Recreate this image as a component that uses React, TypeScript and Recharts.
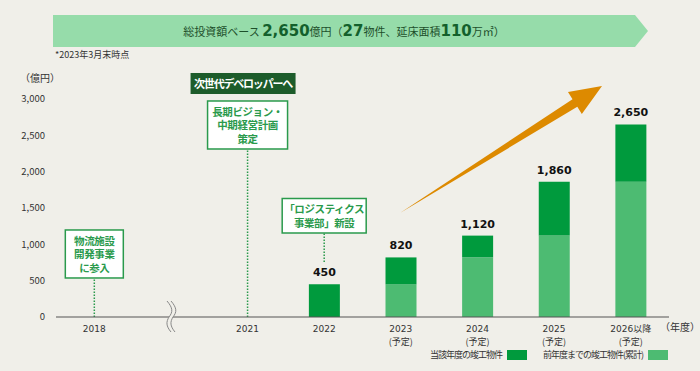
import { Bar, BarChart, LabelList, ReferenceLine, XAxis, YAxis } from "recharts";

const cats = ["2018", "gap", "2021", "2022", "2023", "2024", "2025", "2026"];
const tickTop = ["2018", "", "2021", "2022", "2023", "2024", "2025", "2026以降"];
const tickSub = ["", "", "", "", "(予定)", "(予定)", "(予定)", "(予定)"];
const prior = [null, null, null, null, 450, 820, 1120, 1860];
const current = [null, null, null, 450, 370, 300, 740, 790];
const totals = [null, null, null, 450, 820, 1120, 1860, 2650];
const yTicks = [0, 500, 1000, 1500, 2000, 2500, 3000];

const seriesNames = ["当該年度の竣工物件", "前年度までの竣工物件(累計)"];

const noteCats = ["2018", "2021", "2022"];
const noteText = [
  ["物流施設", "開発事業", "に参入"],
  ["長期ビジョン・", "中期経営計画", "策定"],
  ["「ロジスティクス", "事業部」新設"],
];
const noteFrom = [0, 0, 757];
const noteTo = [537, 2312, 1156];
const noteTag = "次世代デベロッパーへ";

const data = cats.map((c, i) => ({
  cat: c,
  prior: prior[i],
  current: current[i],
  total: totals[i],
}));

const BG = "#f0efe9";
const DARK = "#009a3d";
const LIGHT = "#4dbb72";
const NOTE = "#2a9a4c";
const FONT = "'DejaVu Sans', 'Noto Sans CJK JP', sans-serif";
const JP = "'Noto Sans CJK JP', sans-serif";
const noteW = [58, 80, 84];

const CatTick = (props: any) => {
  const { x, y, payload } = props;
  const i = payload.index;
  return (
    <g>
      <text x={x} y={y + 13} textAnchor="middle" fontSize={9} fill="#333" fontFamily={FONT}>
        {tickTop[i]}
      </text>
      {tickSub[i] && (
        <text x={x} y={y + 25.5} textAnchor="middle" fontSize={9} fill="#333" fontFamily={JP}>
          {tickSub[i]}
        </text>
      )}
    </g>
  );
};

const noteShape = (i: number) => (props: any) => {
  const { x1, y1, y2 } = props;
  const top = Math.min(y1, y2);
  const lines = noteText[i];
  const h = lines.length * 13.5 + 7.5;
  const w = noteW[i];
  const bx = x1 - w / 2;
  const by = top - h;
  return (
    <g>
      <line x1={x1} y1={y1} x2={x1} y2={y2} stroke={NOTE} strokeWidth={1.5} strokeDasharray="1.5 1.5" />
      <rect x={bx} y={by} width={w} height={h} fill="#fff" stroke={NOTE} strokeWidth={1.5} />
      <text
        x={x1}
        y={by + 15}
        textAnchor="middle"
        fontSize={10.5}
        fontWeight="bold"
        letterSpacing={-0.4}
        fill={NOTE}
        fontFamily={JP}
      >
        {lines.map((t, k) => (
          <tspan key={k} x={x1} dy={k === 0 ? 0 : 13.5}>
            {t}
          </tspan>
        ))}
      </text>
      {i === 1 && (
        <g>
          <rect x={x1 - 57} y={by - 28} width={105} height={21} fill="#1d5c2b" />
          <text
            x={x1 - 4.5}
            y={by - 17.5}
            textAnchor="middle"
            dominantBaseline="central"
            fontSize={11}
            fontWeight="bold"
            letterSpacing={-1.2}
            fill="#fff"
            fontFamily={JP}
          >
            {noteTag}
          </text>
        </g>
      )}
    </g>
  );
};

const LegendBox = () => (
  <div style={{ position: "absolute", left: 0, top: 348, width: 700, height: 20, fontFamily: JP, fontSize: 9, color: "#333" }}>
    <span style={{ position: "absolute", left: 430, top: 0, letterSpacing: -1 }}>{seriesNames[0]}</span>
    <span style={{ position: "absolute", left: 507, top: 2, width: 20, height: 10, background: DARK }} />
    <span style={{ position: "absolute", left: 543, top: 0, letterSpacing: -1 }}>{seriesNames[1]}</span>
    <span style={{ position: "absolute", left: 648, top: 2, width: 20, height: 10, background: LIGHT }} />
  </div>
);

// orange trend arrow, pixel decoration
const arrowPts = () => {
  const tail = [400, 213];
  const tip = [602, 86];
  const dx = tip[0] - tail[0];
  const dy = tip[1] - tail[1];
  const len = Math.hypot(dx, dy);
  const u = [dx / len, dy / len];
  const n = [-u[1], u[0]];
  const b = [tip[0] - 32 * u[0], tip[1] - 32 * u[1]];
  const p = (c: number[], k: number) => `${c[0] + k * n[0]},${c[1] + k * n[1]}`;
  return [
    `${tail[0]},${tail[1]}`,
    p(b, -4.5),
    p(b, -13),
    `${tip[0]},${tip[1]}`,
    p(b, 13),
    p(b, 4.5),
  ].join(" ");
};

export default function App() {
  return (
    <div style={{ position: "absolute", left: 0, top: 0, width: 700, height: 371, background: BG, fontFamily: FONT }}>
      <BarChart
        width={700}
        height={371}
        data={data}
        margin={{ top: 99, right: 31, left: 0, bottom: 0 }}
        barSize={31}
      >
        <XAxis
          dataKey="cat"
          tick={<CatTick />}
          tickLine={false}
          tickSize={0}
          height={54}
          axisLine={{ stroke: "#555", strokeWidth: 1.2 }}
          interval={0}
        />
        <YAxis
          width={56}
          domain={[0, 3000]}
          ticks={yTicks}
          axisLine={false}
          tickLine={false}
          tickSize={0}
          tickMargin={11}
          tick={{ fontSize: 9.5, fill: "#333", fontFamily: JP }}
          tickFormatter={(v: number) => v.toLocaleString("en-US")}
        />
        <Bar dataKey="prior" stackId="a" fill={LIGHT} isAnimationActive={false} />
        <Bar dataKey="current" stackId="a" fill={DARK} isAnimationActive={false}>
          <LabelList
            dataKey="total"
            position="top"
            offset={8}
            fontSize={11}
            fontWeight="bold"
            fill="#111"
            fontFamily="'DejaVu Sans', sans-serif"
            formatter={(v: any) => (v == null ? "" : Number(v).toLocaleString("en-US"))}
          />
        </Bar>
        {noteCats.map((c, i) => (
          <ReferenceLine
            key={c}
            segment={[
              { x: c, y: noteFrom[i] },
              { x: c, y: noteTo[i] },
            ]}
            shape={noteShape(i)}
          />
        ))}
      </BarChart>
      <LegendBox />
      <svg width={700} height={371} style={{ position: "absolute", left: 0, top: 0, pointerEvents: "none" }}>
        <polygon points="53,15 635,15 648,31 635,47 53,47" fill="#96dcaa" />
        <text x={344} y={36} textAnchor="middle" fill="#1d4f2a" fontFamily={JP} fontSize={11}>
          総投資額ベース{" "}
          <tspan fontFamily="'DejaVu Sans', sans-serif" fontWeight="bold" fontSize={15} fill="#13602c">
            2,650
          </tspan>
          億円（
          <tspan fontFamily="'DejaVu Sans', sans-serif" fontWeight="bold" fontSize={15} fill="#13602c">
            27
          </tspan>
          物件、延床面積
          <tspan fontFamily="'DejaVu Sans', sans-serif" fontWeight="bold" fontSize={15} fill="#13602c">
            110
          </tspan>
          万㎡）
        </text>
        <text x={55} y={58} fontSize={9} fill="#333" fontFamily={JP}>
          *2023年3月末時点
        </text>
        <text x={20} y={82} fontSize={10} fill="#333" fontFamily={JP}>
          （億円）
        </text>
        <text x={660} y={331} fontSize={10} fill="#333" fontFamily={JP}>
          （年度）
        </text>
        <polygon points={arrowPts()} fill="#dd8a00" />
        <path d="M167,301 C173,308 173,312 169,317 C166,322 166,326 171,332 L175,332 C170,326 170,322 173,317 C177,312 177,308 171,301 Z" fill={BG} />
        <path d="M167,301 C173,308 173,312 169,317 C166,322 166,326 171,332" fill="none" stroke="#888" strokeWidth={1} />
        <path d="M171,301 C177,308 177,312 173,317 C170,322 170,326 175,332" fill="none" stroke="#888" strokeWidth={1} />
      </svg>
    </div>
  );
}
